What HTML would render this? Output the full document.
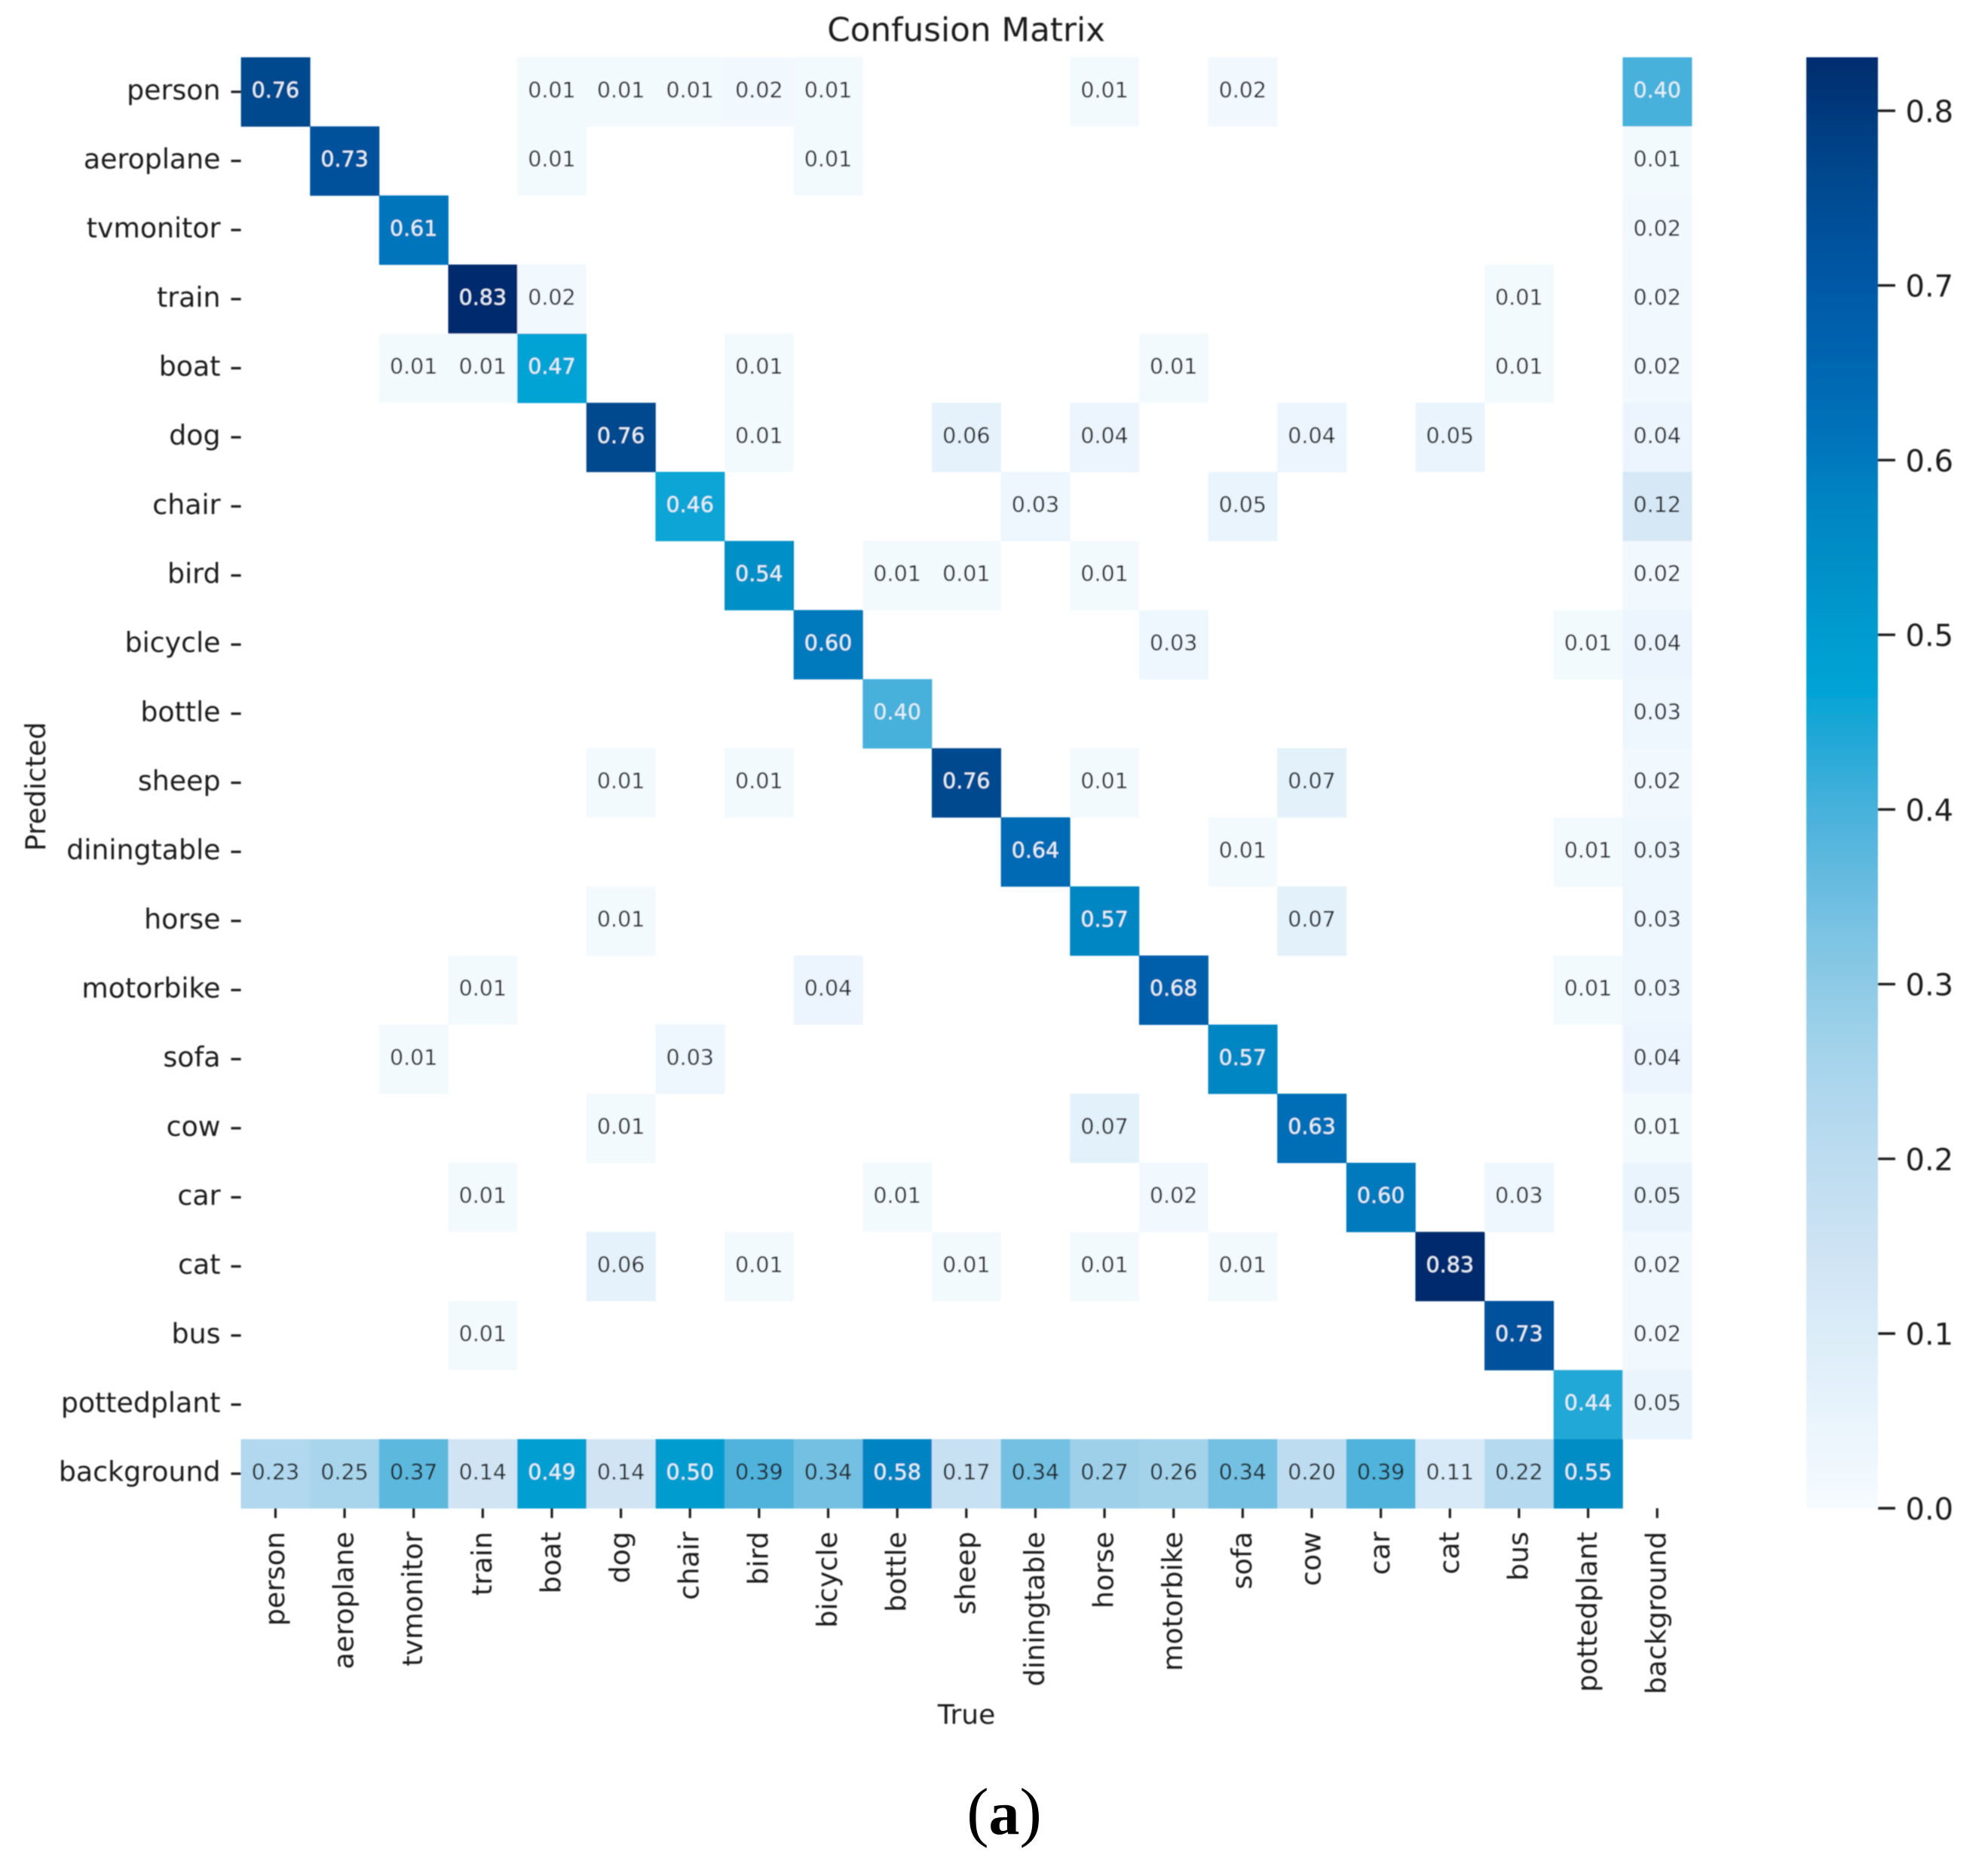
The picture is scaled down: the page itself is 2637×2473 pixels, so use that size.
<!DOCTYPE html>
<html lang="en">
<head>
<meta charset="utf-8">
<title>Confusion Matrix</title>
<style>
  html, body { margin: 0; padding: 0; background: #fff; }
  body { width: 2637px; height: 2473px; overflow: hidden; }
  svg { display: block; }
  text { font-family: "DejaVu Sans", "Liberation Sans", sans-serif; fill: #1f1f1f; }
</style>
</head>
<body>
<svg id="chart" xmlns="http://www.w3.org/2000/svg" width="2637" height="2473" viewBox="0 0 2637 2473">
  <defs>
    <filter id="soft" x="-2%" y="-2%" width="104%" height="104%"><feGaussianBlur stdDeviation="0.9"/></filter>
    <linearGradient id="colorbar-gradient" x1="0" y1="1" x2="0" y2="0"></linearGradient>
  </defs>
  <rect x="0" y="0" width="2637" height="2473" fill="#ffffff"/>
  <g id="plot" filter="url(#soft)">
    <g id="cells"></g>
    <g id="annotations"></g>
    <g id="y-axis"></g>
    <g id="x-axis"></g>
    <rect id="colorbar-rect" fill="url(#colorbar-gradient)"/>
    <g id="colorbar-axis"></g>
    <text x="1281.6" y="54.5" font-size="43.7" text-anchor="middle">Confusion Matrix</text>
    <text x="1282" y="2287" font-size="36" text-anchor="middle">True</text>
    <text x="60" y="1043.5" font-size="36.5" text-anchor="middle" transform="rotate(-90 60 1043.5)">Predicted</text>
  </g>
  <text x="1332" y="2433" font-size="88" text-anchor="middle" style="font-family:'Liberation Serif',serif;fill:#000">(<tspan font-weight="700" font-size="82">a</tspan>)</text>
</svg>
<script>
const categories = ["person","aeroplane","tvmonitor","train","boat","dog","chair","bird","bicycle","bottle","sheep","diningtable","horse","motorbike","sofa","cow","car","cat","bus","pottedplant","background"];
const _ = null;
const rowPerson      = [.76,_,_,_,.01,.01,.01,.02,.01,_,_,_,.01,_,.02,_,_,_,_,_,.40];
const rowAeroplane   = [_,.73,_,_,.01,_,_,_,.01,_,_,_,_,_,_,_,_,_,_,_,.01];
const rowTvmonitor   = [_,_,.61,_,_,_,_,_,_,_,_,_,_,_,_,_,_,_,_,_,.02];
const rowTrain       = [_,_,_,.83,.02,_,_,_,_,_,_,_,_,_,_,_,_,_,.01,_,.02];
const rowBoat        = [_,_,.01,.01,.47,_,_,.01,_,_,_,_,_,.01,_,_,_,_,.01,_,.02];
const rowDog         = [_,_,_,_,_,.76,_,.01,_,_,.06,_,.04,_,_,.04,_,.05,_,_,.04];
const rowChair       = [_,_,_,_,_,_,.46,_,_,_,_,.03,_,_,.05,_,_,_,_,_,.12];
const rowBird        = [_,_,_,_,_,_,_,.54,_,.01,.01,_,.01,_,_,_,_,_,_,_,.02];
const rowBicycle     = [_,_,_,_,_,_,_,_,.60,_,_,_,_,.03,_,_,_,_,_,.01,.04];
const rowBottle      = [_,_,_,_,_,_,_,_,_,.40,_,_,_,_,_,_,_,_,_,_,.03];
const rowSheep       = [_,_,_,_,_,.01,_,.01,_,_,.76,_,.01,_,_,.07,_,_,_,_,.02];
const rowDiningtable = [_,_,_,_,_,_,_,_,_,_,_,.64,_,_,.01,_,_,_,_,.01,.03];
const rowHorse       = [_,_,_,_,_,.01,_,_,_,_,_,_,.57,_,_,.07,_,_,_,_,.03];
const rowMotorbike   = [_,_,_,.01,_,_,_,_,.04,_,_,_,_,.68,_,_,_,_,_,.01,.03];
const rowSofa        = [_,_,.01,_,_,_,.03,_,_,_,_,_,_,_,.57,_,_,_,_,_,.04];
const rowCow         = [_,_,_,_,_,.01,_,_,_,_,_,_,.07,_,_,.63,_,_,_,_,.01];
const rowCar         = [_,_,_,.01,_,_,_,_,_,.01,_,_,_,.02,_,_,.60,_,.03,_,.05];
const rowCat         = [_,_,_,_,_,.06,_,.01,_,_,.01,_,.01,_,.01,_,_,.83,_,_,.02];
const rowBus         = [_,_,_,.01,_,_,_,_,_,_,_,_,_,_,_,_,_,_,.73,_,.02];
const rowPottedplant = [_,_,_,_,_,_,_,_,_,_,_,_,_,_,_,_,_,_,_,.44,.05];
const rowBackground  = [.23,.25,.37,.14,.49,.14,.50,.39,.34,.58,.17,.34,.27,.26,.34,.20,.39,.11,.22,.55,_];
const matrixRows = [rowPerson,rowAeroplane,rowTvmonitor,rowTrain,rowBoat,rowDog,rowChair,rowBird,rowBicycle,rowBottle,rowSheep,rowDiningtable,rowHorse,rowMotorbike,rowSofa,rowCow,rowCar,rowCat,rowBus,rowPottedplant,rowBackground];
const colorbarTicks = [0,0.1,0.2,0.3,0.4,0.5,0.6,0.7,0.8];
const colorbarMax = 0.8306;
const colorStops = [
  [0,"#f6fbff"],[0.05,"#e9f4fc"],[0.1,"#dbecf8"],[0.14,"#d0e4f4"],[0.2,"#bddcf0"],
  [0.25,"#a9d5ec"],[0.3,"#8dcae5"],[0.34,"#73c0e2"],[0.39,"#4fb3dc"],[0.44,"#22a8d6"],
  [0.47,"#00a3d4"],[0.5,"#009ccf"],[0.55,"#008cc4"],[0.58,"#0083c2"],[0.61,"#0074bb"],
  [0.7,"#0058a6"],[0.76,"#00498f"],[0.83,"#002c6e"]
];

const NS = "http://www.w3.org/2000/svg";
const plot = { left: 319.6, top: 76, right: 2244, bottom: 2001 };
const bar = { left: 2396, right: 2491 };
const n = categories.length;
const cellW = (plot.right - plot.left) / n;
const cellH = (plot.bottom - plot.top) / n;
const xBand = i => plot.left + cellW * i;
const yBand = i => plot.top + cellH * i;
const yBar = v => plot.bottom - (v / colorbarMax) * (plot.bottom - plot.top);

function hex(c) { return [1,3,5].map(k => parseInt(c.substr(k,2),16)); }
function colorScale(v) {
  for (let k = 1; k < colorStops.length; k++) {
    if (v <= colorStops[k][0]) {
      const a = colorStops[k-1], b = colorStops[k];
      const t = (v - a[0]) / (b[0] - a[0]);
      const A = hex(a[1]), B = hex(b[1]);
      return "rgb(" + A.map((x,j) => Math.round(x + (B[j]-x)*t)).join(",") + ")";
    }
  }
  return colorStops[colorStops.length-1][1];
}
function make(tag, attrs, parent) {
  const node = document.createElementNS(NS, tag);
  for (const k in attrs) node.setAttribute(k, attrs[k]);
  parent.appendChild(node);
  return node;
}

const cellsG = document.getElementById("cells");
const annG = document.getElementById("annotations");
matrixRows.forEach((row, r) => {
  row.forEach((value, c) => {
    if (value === null) return;
    const rect = make("rect", { x: xBand(c), y: yBand(r), width: cellW + 0.4, height: cellH + 0.4, fill: colorScale(value) }, cellsG);
    
    
    const label = make("text", { x: xBand(c) + cellW / 2, y: yBand(r) + cellH / 2 + 7.7, "font-size": 28.5, "text-anchor": "middle" }, annG);
    label.style.fill = value >= 0.395 ? "#e6f1f9" : "#22282c";
    label.textContent = value.toFixed(2);
    
    
  });
});

const yAxisG = document.getElementById("y-axis");
const xAxisG = document.getElementById("x-axis");
categories.forEach((name, i) => {
  const cy = yBand(i) + cellH / 2;
  const yTick = make("line", { x1: 306.5, x2: plot.left, y1: cy, y2: cy, stroke: "#1f1f1f", "stroke-width": 3.2 }, yAxisG);
  
  
  const yLabel = make("text", { x: 292.5, y: cy + 10, "font-size": 36.3, "text-anchor": "end" }, yAxisG);
  yLabel.textContent = name;
  
  

  const cx = xBand(i) + cellW / 2;
  const xTick = make("line", { x1: cx, x2: cx, y1: plot.bottom, y2: 2014, stroke: "#1f1f1f", "stroke-width": 3.2 }, xAxisG);
  
  
  const xLabel = make("text", { x: cx + 11.5, y: 2032, "font-size": 36.5, "text-anchor": "end", transform: "rotate(-90 " + (cx + 11.5) + " 2032)" }, xAxisG);
  xLabel.textContent = name;
  
  
});

const grad = document.getElementById("colorbar-gradient");
colorStops.forEach(s => {
  make("stop", { offset: Math.min(s[0] / colorbarMax, 1), "stop-color": s[1] }, grad);
});
const cbRect = document.getElementById("colorbar-rect");
cbRect.setAttribute("x", bar.left);
cbRect.setAttribute("y", plot.top);
cbRect.setAttribute("width", bar.right - bar.left);
cbRect.setAttribute("height", plot.bottom - plot.top);

const cbAxis = document.getElementById("colorbar-axis");
colorbarTicks.forEach(v => {
  const y = yBar(v);
  const t = make("line", { x1: bar.right, x2: 2514, y1: y, y2: y, stroke: "#1f1f1f", "stroke-width": 3.4 }, cbAxis);
  
  
  const l = make("text", { x: 2527.5, y: y + 15, "font-size": 40 }, cbAxis);
  l.textContent = v.toFixed(1);
  
  
});
</script>
</body>
</html>
